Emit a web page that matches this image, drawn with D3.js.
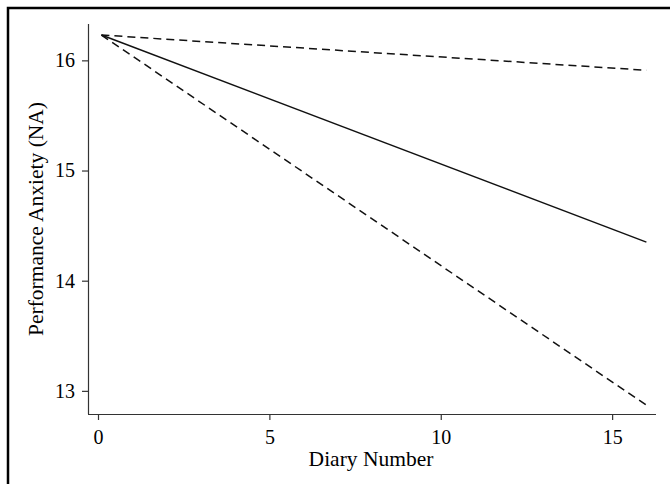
<!doctype html>
<html>
<head>
<style>
  body { margin:0; background:#fff; }
  svg { display:block; }
  text { font-family:"Liberation Serif", "Times New Roman", serif; fill:#000; }
  .axis path, .axis line { stroke:#333; stroke-width:1.2px; }
</style>
<script src="https://d3js.org/d3.v7.min.js"></script>
</head>
<body>
<svg id="chart" width="670" height="484"></svg>
<script>
// diary number at both ends of the lines
var diary = [0.1, 16]
// predicted performance anxiety, estimate and bounds
var estimate = [16.23, 14.35]
var upper = [16.23, 15.91]
var lower = [16.23, 12.87]

var xTicks = [0, 5, 10, 15]
var yTicks = [13, 14, 15, 16]

var svg = d3.select("#chart")

// frame (only top and left edges show)
svg.append("path")
  .attr("d", "M8,484 V8 H670")
  .style("fill", "none")
  .style("stroke", "black")
  .style("stroke-width", 2.5)

var x = d3.scaleLinear().domain([0, 16.28]).range([98, 656])
var y = d3.scaleLinear().domain([12.79, 16.33]).range([414, 24])

var xAxis = svg.append("g")
  .attr("class", "axis")
  .attr("transform", "translate(0,414)")
  .call(d3.axisBottom(x).tickValues(xTicks).tickFormat(d3.format("d"))
    .tickSize(6).tickPadding(10).tickSizeOuter(0))
xAxis.select(".domain").attr("d", "M88,0.5H656")

var yAxis = svg.append("g")
  .attr("class", "axis")
  .attr("transform", "translate(88,0)")
  .call(d3.axisLeft(y).tickValues(yTicks).tickFormat(d3.format("d"))
    .tickSize(6).tickPadding(7).tickSizeOuter(0))
yAxis.select(".domain").attr("d", "M0.5,24V414")

svg.selectAll(".axis text")
  .attr("font-family", "Liberation Serif")
  .attr("font-size", 20)
  .attr("fill", "#000")

var line = d3.line().x((d, i) => x(diary[i])).y(d => y(d))

var series = [
  { v: upper, dash: "8,5" },
  { v: lower, dash: "8,5" },
  { v: estimate, dash: null }
]

svg.selectAll(".series")
  .data(series)
  .enter().append("path")
  .attr("class", "series")
  .attr("d", d => line(d.v))
  .style("fill", "none")
  .style("stroke", "#111")
  .style("stroke-width", 1.5)
  .style("stroke-dasharray", d => d.dash)

svg.append("text")
  .attr("x", 371)
  .attr("y", 466)
  .attr("text-anchor", "middle")
  .style("font-size", "21.5px")
  .text("Diary Number")

svg.append("text")
  .attr("transform", "translate(43,219) rotate(-90)")
  .attr("text-anchor", "middle")
  .style("font-size", "21.5px")
  .text("Performance Anxiety (NA)")
</script>
</body>
</html>
